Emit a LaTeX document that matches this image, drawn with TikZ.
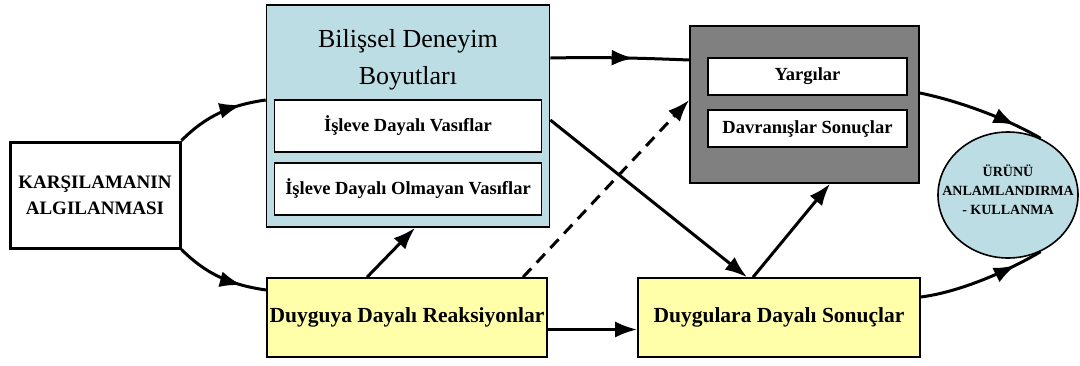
\documentclass[tikz,border=0pt]{standalone}
\usepackage{fontspec}
\setmainfont{Liberation Serif}[BoldFont={Liberation Serif Bold}]
\usetikzlibrary{arrows.meta,decorations.markings,shapes.geometric,calc}

\definecolor{cogblue}{HTML}{BCDDE3}
\definecolor{emoyellow}{HTML}{FFFFAA}
\definecolor{outgray}{HTML}{808080}

\begin{document}
\begin{tikzpicture}[x=1pt,y=-1pt,
  box/.style={draw=black, line width=1.6pt, rectangle, inner sep=0pt, align=center},
  subbox/.style={box, fill=white, line width=1.3pt},
  boldtxt/.style={font=\fontsize{#1}{#1}\selectfont\bfseries},
  conn/.style={line width=3pt},
  tip/.style={-{Latex[length=22pt,width=16pt]}},
  midarrow/.style={postaction={decorate},
    decoration={markings, mark=at position #1 with {\arrow{Latex[length=22pt,width=16pt]}}}}
]
\useasboundingbox (0,0) rectangle (1080,365);
\fill[white] (0,0) rectangle (1080,365);

% perception of the encounter
\node[box, line width=3pt, fill=white, minimum width=170pt, minimum height=106pt,
      font=\fontsize{19}{26}\selectfont\bfseries] (L) at (95,195) {KARŞILAMANIN\\ALGILANMASI};

% cognitive experience dimensions
\node[box, fill=cogblue, minimum width=283pt, minimum height=222pt] (B) at (408,116) {};
\node[align=center, inner sep=0pt, font=\fontsize{26}{37}\selectfont] (BT) at (408,60) {Bilişsel Deneyim\\Boyutları};
\node[subbox, minimum width=267pt, minimum height=52pt, boldtxt=18.5] (I1) at (408,126) {İşleve Dayalı Vasıflar};
\node[subbox, minimum width=267pt, minimum height=52pt, boldtxt=18.5] (I2) at (408,189) {İşleve Dayalı Olmayan Vasıflar};

% emotional reactions
\node[box, fill=emoyellow, minimum width=280pt, minimum height=79pt, boldtxt=21.5] (Y1) at (407,317.5) {Duyguya Dayalı Reaksiyonlar};

% outcomes
\node[box, fill=outgray, minimum width=229pt, minimum height=157pt] (G) at (804.5,104.5) {};
\node[subbox, minimum width=199pt, minimum height=37pt, boldtxt=18.5] (G1) at (807.5,76.5) {Yargılar};
\node[subbox, minimum width=199pt, minimum height=37pt, boldtxt=18.5] (G2) at (807.5,128.5) {Davranışlar Sonuçlar};

\node[box, fill=emoyellow, minimum width=282pt, minimum height=79pt, boldtxt=21.5] (Y2) at (779,317.5) {Duygulara Dayalı Sonuçlar};

% meaning and use of the product
\node[ellipse, draw=black, line width=1.6pt, fill=cogblue, minimum width=140pt, minimum height=126pt, inner sep=0pt] (E) at (1008,195) {};
\node[align=center, inner sep=0pt, font=\fontsize{14}{19}\selectfont\bfseries] (ET) at (1008,190) {ÜRÜNÜ\\ANLAMLANDIRMA\\- KULLANMA};

% connectors
\draw[conn, midarrow=0.74] (L.north east) .. controls +(25,-25) and +(-35,5) .. ([yshift=16pt]B.west);
\draw[conn, midarrow=0.74] (L.south east) .. controls +(25,25) and +(-35,-5) .. ([yshift=27.5pt]Y1.west);
\draw[conn, midarrow=0.6] ([yshift=58pt]B.east) .. controls +(50,-1) and +(-50,-2) .. ([yshift=44.5pt]G.west);
\draw[conn, tip] ([yshift=-4pt]B.east) -- ([xshift=-32pt]Y2.north);
\draw[conn, tip] ([xshift=-26pt]Y2.north) -- ([xshift=25.5pt]G.south);
\draw[conn, tip] ([xshift=-40pt]Y1.north) -- ([xshift=7pt]B.south);
\draw[conn, tip, dash pattern=on 12pt off 8pt] ([xshift=116pt]Y1.north) -- ([yshift=4.5pt]G.west);
\draw[conn, tip] ([yshift=-12pt]Y1.east) -- ([yshift=-12pt]Y2.west);
\draw[conn, midarrow=0.78] ([yshift=11.5pt]G.east) .. controls +(40,8) and +(-30,-18) .. (E.60);
\draw[conn, midarrow=0.78] ([yshift=20.5pt]Y2.east) .. controls +(40,-5) and +(-30,18) .. (E.-60);
\end{tikzpicture}
\end{document}
